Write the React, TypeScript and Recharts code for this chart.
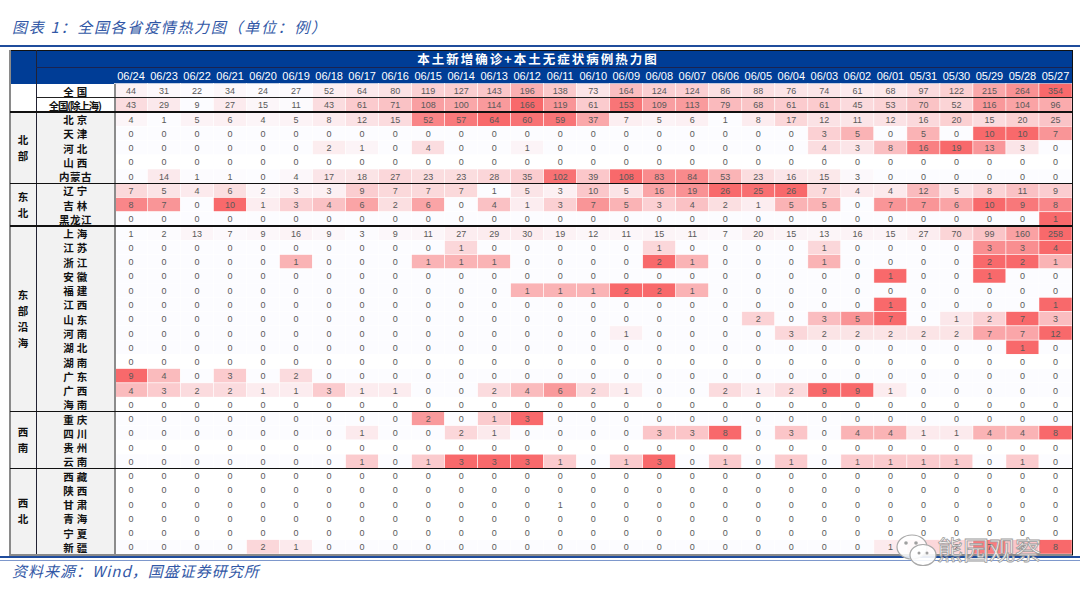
import React from 'react';
import { ScatterChart, Scatter, XAxis, YAxis } from 'recharts';

// ---------- data ----------
const dates = ['06/24','06/23','06/22','06/21','06/20','06/19','06/18','06/17','06/16','06/15','06/14','06/13','06/12','06/11','06/10','06/09','06/08','06/07','06/06','06/05','06/04','06/03','06/02','06/01','05/31','05/30','05/29','05/28','05/27'];

const quanguo = [44,31,22,34,24,27,52,64,80,119,127,143,196,138,73,164,124,124,86,88,76,74,61,68,97,122,215,264,354];
const quanguoExSh = [43,29,9,27,15,11,43,61,71,108,100,114,166,119,61,153,109,113,79,68,61,61,45,53,70,52,116,104,96];
const beijing = [4,1,5,6,4,5,8,12,15,52,57,64,60,59,37,7,5,6,1,8,17,12,11,12,16,20,15,20,25];
const tianjin = [0,0,0,0,0,0,0,0,0,0,0,0,0,0,0,0,0,0,0,0,0,3,5,0,5,0,10,10,7];
const hebei = [0,0,0,0,0,0,2,1,0,4,0,0,1,0,0,0,0,0,0,0,0,4,3,8,16,19,13,3,0];
const shanxi = [0,0,0,0,0,0,0,0,0,0,0,0,0,0,0,0,0,0,0,0,0,0,0,0,0,0,0,0,0];
const neimenggu = [0,14,1,1,0,4,17,18,27,23,23,28,35,102,39,108,83,84,53,23,16,15,3,0,0,0,0,0,0];
const liaoning = [7,5,4,6,2,3,3,9,7,7,7,1,5,3,10,5,16,19,26,25,26,7,4,4,12,5,8,11,9];
const jilin = [8,7,0,10,1,3,4,6,2,6,0,4,1,3,7,5,3,4,2,1,5,5,0,7,7,6,10,9,8];
const heilongjiang = [0,0,0,0,0,0,0,0,0,0,0,0,0,0,0,0,0,0,0,0,0,0,0,0,0,0,0,0,1];
const shanghai = [1,2,13,7,9,16,9,3,9,11,27,29,30,19,12,11,15,11,7,20,15,13,16,15,27,70,99,160,258];
const jiangsu = [0,0,0,0,0,0,0,0,0,0,1,0,0,0,0,0,1,0,0,0,0,1,0,0,0,0,3,3,4];
const zhejiang = [0,0,0,0,0,1,0,0,0,1,1,1,0,0,0,0,2,1,0,0,0,1,0,0,0,0,2,2,1];
const anhui = [0,0,0,0,0,0,0,0,0,0,0,0,0,0,0,0,0,0,0,0,0,0,0,1,0,0,1,0,0];
const fujian = [0,0,0,0,0,0,0,0,0,0,0,0,1,1,1,2,2,1,0,0,0,0,0,0,0,0,0,0,0];
const jiangxi = [0,0,0,0,0,0,0,0,0,0,0,0,0,0,0,0,0,0,0,0,0,0,0,1,0,0,0,0,1];
const shandong = [0,0,0,0,0,0,0,0,0,0,0,0,0,0,0,0,0,0,0,2,0,3,5,7,0,1,2,7,3];
const henan = [0,0,0,0,0,0,0,0,0,0,0,0,0,0,0,1,0,0,0,0,3,2,2,2,2,2,7,7,12];
const hubei = [0,0,0,0,0,0,0,0,0,0,0,0,0,0,0,0,0,0,0,0,0,0,0,0,0,0,0,1,0];
const hunan = [0,0,0,0,0,0,0,0,0,0,0,0,0,0,0,0,0,0,0,0,0,0,0,0,0,0,0,0,0];
const guangdong = [9,4,0,3,0,2,0,0,0,0,0,0,0,0,0,0,0,0,0,0,0,0,0,0,0,0,0,0,0];
const guangxi = [4,3,2,2,1,1,3,1,1,0,0,2,4,6,2,1,0,0,2,1,2,9,9,1,0,0,0,0,0];
const hainan = [0,0,0,0,0,0,0,0,0,0,0,0,0,0,0,0,0,0,0,0,0,0,0,0,0,0,0,0,0];
const chongqing = [0,0,0,0,0,0,0,0,0,2,0,1,3,0,0,0,0,0,0,0,0,0,0,0,0,0,0,0,0];
const sichuan = [0,0,0,0,0,0,0,1,0,0,2,1,0,0,0,0,3,3,8,0,3,0,4,4,1,1,4,4,8];
const guizhou = [0,0,0,0,0,0,0,0,0,0,0,0,0,0,0,0,0,0,0,0,0,0,0,0,0,0,0,0,0];
const yunnan = [0,0,0,0,0,0,0,1,0,1,3,3,3,1,0,1,3,0,1,0,1,0,1,1,1,1,0,1,0];
const xizang = [0,0,0,0,0,0,0,0,0,0,0,0,0,0,0,0,0,0,0,0,0,0,0,0,0,0,0,0,0];
const shaanxi = [0,0,0,0,0,0,0,0,0,0,0,0,0,0,0,0,0,0,0,0,0,0,0,0,0,0,0,0,0];
const gansu = [0,0,0,0,0,0,0,0,0,0,0,0,0,1,0,0,0,0,0,0,0,0,0,0,0,0,0,0,0];
const qinghai = [0,0,0,0,0,0,0,0,0,0,0,0,0,0,0,0,0,0,0,0,0,0,0,0,0,0,0,0,0];
const ningxia = [0,0,0,0,0,0,0,0,0,0,0,0,0,0,0,0,0,0,0,0,0,0,0,0,0,0,0,0,0];
const xinjiang = [0,0,0,0,2,1,0,0,0,0,0,0,0,0,0,0,0,0,0,0,0,0,0,1,2,2,7,3,8];

const rowNames = ['全国','全国(除上海)','北京','天津','河北','山西','内蒙古','辽宁','吉林','黑龙江','上海','江苏','浙江','安徽','福建','江西','山东','河南','湖北','湖南','广东','广西','海南','重庆','四川','贵州','云南','西藏','陕西','甘肃','青海','宁夏','新疆'];
const rowValues = [quanguo,quanguoExSh,beijing,tianjin,hebei,shanxi,neimenggu,liaoning,jilin,heilongjiang,shanghai,jiangsu,zhejiang,anhui,fujian,jiangxi,shandong,henan,hubei,hunan,guangdong,guangxi,hainan,chongqing,sichuan,guizhou,yunnan,xizang,shaanxi,gansu,qinghai,ningxia,xinjiang];
const regionNames = ['北部','东北','东部沿海','西南','西北'];
const regionSizes = [5,3,13,4,6];
const nationalRows = 2;
const plainRows = ['甘肃'];
const headerTitle = '本土新增确诊+本土无症状病例热力图';
const chartTitle = '图表 1：全国各省疫情热力图（单位：例）';
const sourceText = '资料来源：Wind，国盛证券研究所';

// ---------- layout ----------
const W = 1080, H = 599;
const T_L = 10, T_R = 1072, T_T = 50, H_MID = 67.5, D_T = 83.5, D_B = 554;
const REG_R = 36, PROV_R = 114.5;
const COL_W = (T_R - PROV_R) / dates.length;
const ROW_H = (D_B - D_T) / rowNames.length;

const MIN_C = [252, 252, 255];
const MAX_C = [248, 105, 107];
function scaleColor(v: number, min: number, max: number) {
  if (max <= min) return '#FFFFFF';
  const t = (v - min) / (max - min);
  const c = MIN_C.map((m, i) => Math.round(m + (MAX_C[i] - m) * t));
  return `rgb(${c[0]},${c[1]},${c[2]})`;
}

const cells = rowValues.flatMap((vals, yi) => {
  const min = Math.min(...vals);
  const max = Math.max(...vals);
  const plain = plainRows.includes(rowNames[yi]);
  return vals.map((v, xi) => ({ xi, yi, v, fill: plain ? '#FFFFFF' : scaleColor(v, min, max) }));
});

const FONT_CJK = "'Noto Sans CJK SC', 'Noto Sans', sans-serif";
const FONT_NUM = "'Liberation Sans', Arial, sans-serif";

const CellShape = (props: any) => {
  const { cx, cy, payload } = props;
  if (cx == null || cy == null) return null;
  return (
    <g>
      <rect x={cx - COL_W / 2} y={cy - ROW_H / 2} width={COL_W} height={ROW_H} fill={payload.fill} stroke="#FFFFFF" strokeWidth={0.5} />
      <text x={cx} y={cy + 0.5} textAnchor="middle" dominantBaseline="central" fontSize={9} fontFamily={FONT_NUM} fill="#595959">{payload.v}</text>
    </g>
  );
};

const XTick = (props: any) => {
  const { x, payload } = props;
  return (
    <text x={x} y={(H_MID + D_T) / 2 + 0.5} textAnchor="middle" dominantBaseline="central" fill="#FFFFFF" fontSize={11} fontFamily={FONT_NUM}>
      {dates[payload.value]}
    </text>
  );
};

const YTick = (props: any) => {
  const { y, payload } = props;
  const name = rowNames[payload.value];
  if (!name) return null;
  const sp = name.length <= 2 ? 3 : name.length === 3 ? 0.5 : -1.2;
  return (
    <text x={(REG_R + PROV_R) / 2 + sp / 2} y={y + 0.5} textAnchor="middle" dominantBaseline="central" fontSize={10.5} fontWeight="bold" fontFamily={FONT_CJK} letterSpacing={sp} fill="#111111">
      {name}
    </text>
  );
};

const box = (key: string, left: number, top: number, width: number, height: number, bg: string) => (
  <div key={key} style={{ position: 'absolute', left, top, width, height, background: bg }} />
);

export default function App() {
  const bounds: number[] = [];
  let acc = nationalRows;
  bounds.push(acc);
  regionSizes.forEach((s, i) => { acc += s; if (i < regionSizes.length - 1) bounds.push(acc); });
  const regionStarts: number[] = [];
  let st = nationalRows;
  regionSizes.forEach((s) => { regionStarts.push(st); st += s; });

  const under = [
    box('hdr', T_L, T_T, T_R - T_L, D_T - T_T, '#003D96'),
    box('lbl', T_L, D_T + nationalRows * ROW_H, PROV_R - T_L, D_B - (D_T + nationalRows * ROW_H), '#F2F2F2'),
  ];

  const over = [
    box('topline', 0, 44.5, W, 2.5, '#1F4C9C'),
    box('tb', T_L, T_T - 0.5, T_R - T_L + 1, 1.5, '#111111'),
    box('lb', T_L - 1, T_T, 2, D_B - T_T + 1, '#8A8A8A'),
    box('bb', T_L - 1, D_B - 0.5, T_R - T_L + 2, 2, '#8A8A8A'),
    box('rb', T_R - 0.5, T_T, 1.5, D_B - T_T + 1, '#111111'),
    box('hv', REG_R - 0.5, T_T, 1, D_B - T_T, '#222233'),
    box('hh', REG_R, H_MID - 0.5, T_R - REG_R, 1, '#1A2350'),
    box('pv', PROV_R - 1, D_T, 2, D_B - D_T, '#8C8C8C'),
    box('nat', REG_R, D_T + ROW_H - 0.5, T_R - REG_R, 1, '#222222'),
    ...bounds.map((b, i) => box('g' + i, T_L, D_T + b * ROW_H - 0.75, T_R - T_L, 1.5, '#111111')),
    box('foot1', 0, 555.5, W, 2.8, '#1F4C9C'),
    box('foot2', 0, 559.5, W, 1, '#7E98CC'),
  ];

  return (
    <div style={{ position: 'absolute', left: 0, top: 0, width: W, height: H, background: '#FFFFFF', overflow: 'hidden' }}>
      <div style={{ position: 'absolute', left: 12, top: 16, fontFamily: FONT_CJK, fontStyle: 'italic', fontSize: 15, letterSpacing: 1.7, color: '#3258A6', whiteSpace: 'nowrap', lineHeight: '22px' }}>
        {chartTitle}
      </div>
      {under}
      <div style={{ position: 'absolute', left: 0, top: 0 }}>
        <ScatterChart width={W} height={H} margin={{ top: 67.5, left: 10, right: 8, bottom: 45 }}>
          <XAxis type="number" dataKey="xi" orientation="top" height={16} domain={[-0.5, dates.length - 0.5]} ticks={dates.map((_, i) => i)} interval={0} axisLine={false} tickLine={false} tick={<XTick />} />
          <YAxis type="number" dataKey="yi" width={104.5} reversed domain={[-0.5, rowNames.length - 0.5]} ticks={rowNames.map((_, i) => i)} interval={0} axisLine={false} tickLine={false} tick={<YTick />} />
          <Scatter data={cells} isAnimationActive={false} shape={<CellShape />} />
        </ScatterChart>
      </div>
      <div style={{ position: 'absolute', left: 0, top: 0, width: W, height: H, pointerEvents: 'none' }}>
        {over}
        <div style={{ position: 'absolute', left: REG_R, top: T_T, width: T_R - REG_R, height: H_MID - T_T, display: 'flex', alignItems: 'center', justifyContent: 'center', color: '#FFFFFF', fontFamily: FONT_CJK, fontWeight: 'bold', fontSize: 12.5, letterSpacing: 2, paddingRight: 32, boxSizing: 'border-box' }}>
          {headerTitle}
        </div>
        {regionNames.map((r, i) => {
          const top = D_T + regionStarts[i] * ROW_H;
          const h = regionSizes[i] * ROW_H;
          return (
            <div key={r} style={{ position: 'absolute', left: T_L, top, width: REG_R - T_L, height: h, display: 'flex', flexDirection: 'column', alignItems: 'center', justifyContent: 'center', fontFamily: FONT_CJK, fontWeight: 'bold', fontSize: 10.5, color: '#111111', lineHeight: '16px' }}>
              {r.split('').map((ch, k) => <span key={k}>{ch}</span>)}
            </div>
          );
        })}
        <div style={{ position: 'absolute', left: 12, top: 560, fontFamily: FONT_CJK, fontStyle: 'italic', fontSize: 15, letterSpacing: 1, color: '#3258A6', whiteSpace: 'nowrap', lineHeight: '22px' }}>
          {sourceText}
        </div>
        <svg style={{ position: 'absolute', left: 895, top: 533 }} width={46} height={36}>
          <ellipse cx={17} cy={14} rx={15} ry={12} fill="#FFFFFF" fillOpacity={0.85} stroke="#A8A8A8" strokeWidth={1.2} />
          <ellipse cx={28} cy={22} rx={13} ry={10.5} fill="#FFFFFF" fillOpacity={0.9} stroke="#A8A8A8" strokeWidth={1.2} />
          <circle cx={11} cy={10} r={1.8} fill="#A0A0A0" />
          <circle cx={21} cy={10} r={1.8} fill="#A0A0A0" />
          <circle cx={24} cy={20} r={1.5} fill="#A0A0A0" />
          <circle cx={32} cy={20} r={1.5} fill="#A0A0A0" />
        </svg>
        <div style={{ position: 'absolute', left: 937, top: 532, fontFamily: FONT_CJK, fontSize: 26, color: 'rgba(255,255,255,0.92)', WebkitTextStroke: '0.8px #9C9C9C', whiteSpace: 'nowrap', lineHeight: '34px' }}>
          熊园观察
        </div>
      </div>
    </div>
  );
}
